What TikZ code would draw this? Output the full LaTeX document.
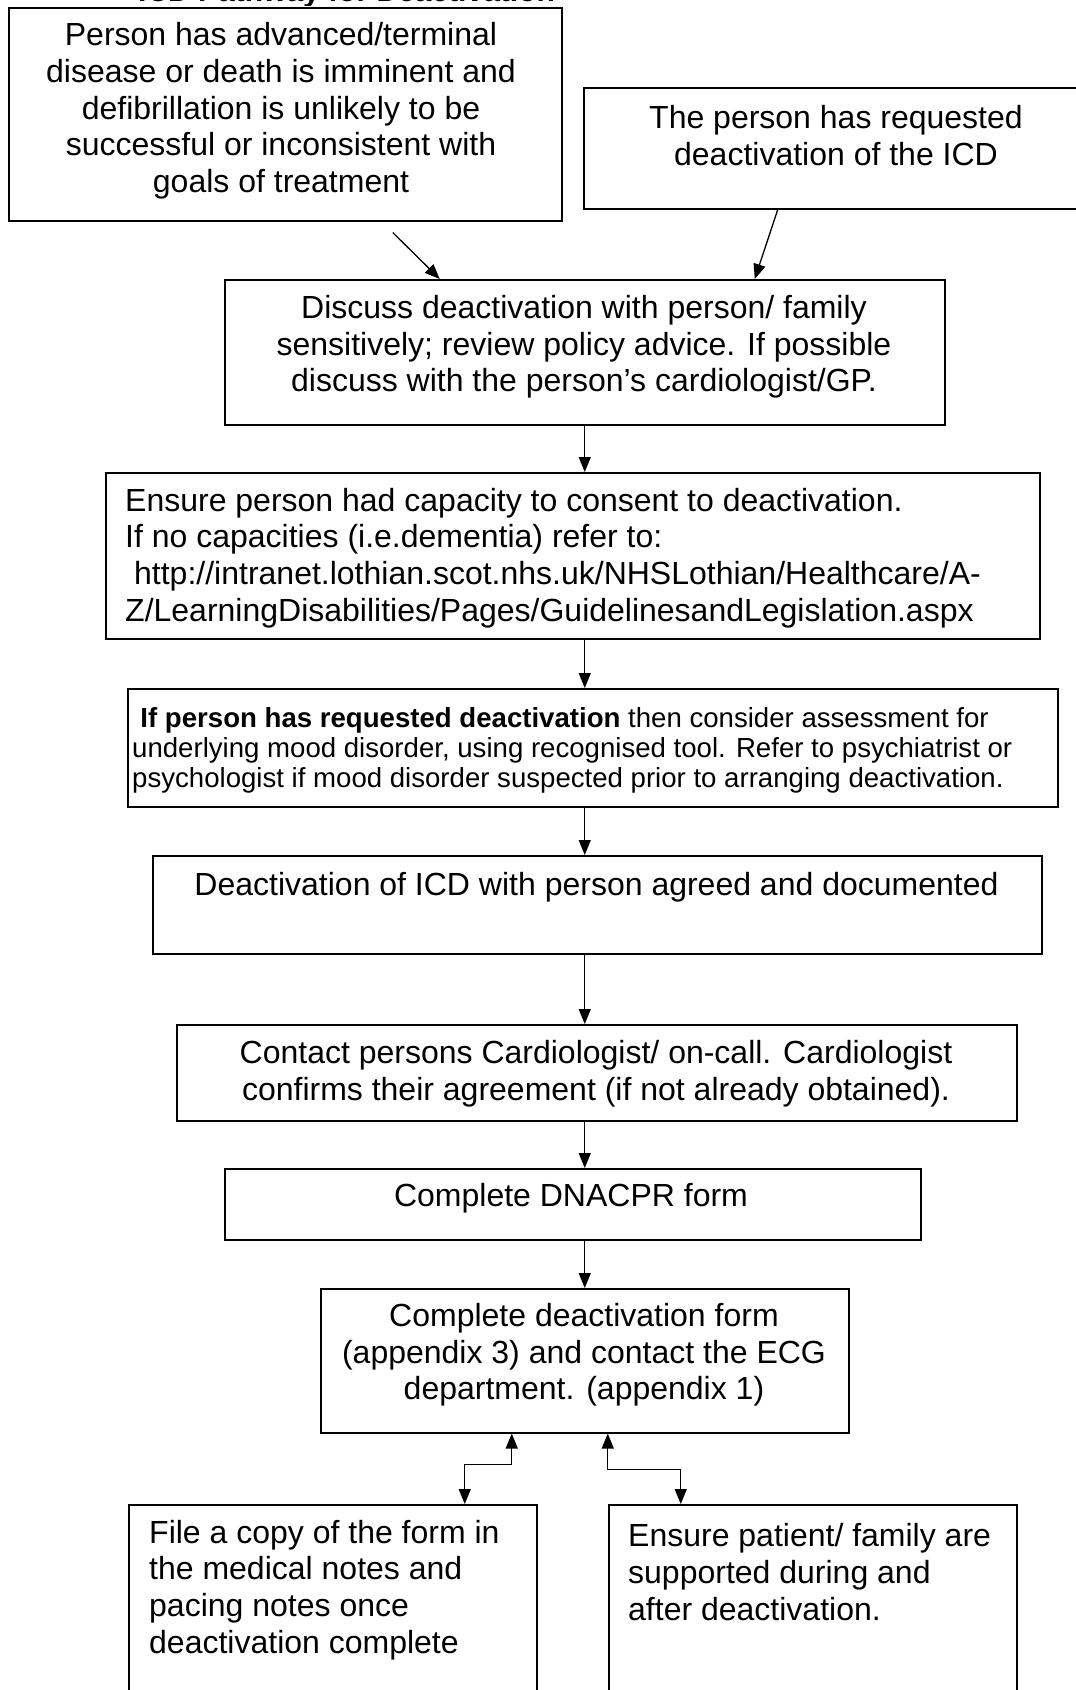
\documentclass[tikz,border=0pt]{standalone}
\usepackage{fontspec}
\setmainfont{Liberation Sans}
\usetikzlibrary{arrows.meta}
\tikzset{
  box/.style={draw=black, line width=1.5pt, rectangle, inner sep=0pt, anchor=north west},
  txt/.style={inner sep=0pt, font=\fontsize{32}{36.7}\selectfont},
  smalltxt/.style={inner sep=0pt, font=\fontsize{27.6}{30}\selectfont},
  arr/.style={line width=1.3pt, -{Triangle[length=15pt,width=12pt]}},
  darr/.style={line width=1.3pt, {Triangle[length=15pt,width=12pt]}-{Triangle[length=15pt,width=12pt]}},
}
\begin{document}
\begin{tikzpicture}[x=1pt,y=-1pt]
\useasboundingbox (0,0) rectangle (1076,1690);
\clip (0,0) rectangle (1076,1690);
\fill[white] (0,0) rectangle (1076,1690);

% cut-off title
\begin{scope}
\clip (0,-40) rectangle (1076,5);
\node[anchor=base west, inner sep=0pt, font=\bfseries\fontsize{30}{34}\selectfont] (title) at (138,1.5) {ICD Pathway for Deactivation};
\end{scope}

% boxes
\node[box, minimum width=553pt, minimum height=213pt] (b1) at (8,7) {};
\node[box, minimum width=507pt, minimum height=121pt] (b2) at (583,87) {};
\node[box, minimum width=720pt, minimum height=145pt] (b3) at (224,279) {};
\node[box, minimum width=934pt, minimum height=166pt] (b4) at (105,472) {};
\node[box, minimum width=930pt, minimum height=118pt] (b5) at (127,688) {};
\node[box, minimum width=889pt, minimum height=98pt] (b6) at (152,855) {};
\node[box, minimum width=840pt, minimum height=96pt] (b7) at (176,1024) {};
\node[box, minimum width=696pt, minimum height=71pt] (b8) at (224,1168) {};
\node[box, minimum width=528pt, minimum height=144pt] (b9) at (320,1288) {};
\node[box, minimum width=408pt, minimum height=240pt] (b10) at (128,1504) {};
\node[box, minimum width=408pt, minimum height=240pt] (b11) at (608,1504) {};

% texts
\node[txt, align=center] (t1) at (281,111) {Person has advanced/terminal\\disease or death is imminent and\\defibrillation is unlikely to be\\successful or inconsistent with\\goals of treatment};
\node[txt, align=center] (t2) at (836,135.5) {The person has requested\\deactivation of the ICD};
\node[txt, align=center] (t3) at (584,347) {Discuss deactivation with person/ family\\sensitively; review policy advice. If possible\\discuss with the person’s cardiologist/GP.};
\node[txt, align=left, anchor=west] (t4) at (125,558) {Ensure person had capacity to consent to deactivation.\\If no capacities (i.e.dementia) refer to:\\\hspace*{0.28em}http://intranet.lothian.scot.nhs.uk/NHSLothian/Healthcare/A-\\Z/LearningDisabilities/Pages/GuidelinesandLegislation.aspx};
\node[smalltxt, align=left, anchor=west] (t5) at (132,750) {\hspace*{0.3em}\textbf{If person has requested deactivation} then consider assessment for\\underlying mood disorder, using recognised tool. Refer to psychiatrist or\\psychologist if mood disorder suspected prior to arranging deactivation.};
\node[txt] (t6) at (596.5,887) {Deactivation of ICD with person agreed and documented};
\node[txt, align=center] (t7) at (596,1074) {Contact persons Cardiologist/ on-call. Cardiologist\\confirms their agreement (if not already obtained).};
\node[txt] (t8) at (571,1198) {Complete DNACPR form};
\node[txt, align=center] (t9) at (584,1355) {Complete deactivation form\\(appendix 3) and contact the ECG\\department. (appendix 1)};
\node[txt, align=left, anchor=west] (t10) at (149,1590) {File a copy of the form in\\the medical notes and\\pacing notes once\\deactivation complete};
\node[txt, align=left, anchor=west] (t11) at (628,1572) {Ensure patient/ family are\\supported during and\\after deactivation.};

% connectors
\draw[arr] ([xshift=107.5pt,yshift=-11pt]b1.south) -- ([xshift=-145pt]b3.north);
\draw[arr] ([xshift=-59.5pt]b2.south) -- ([xshift=170pt]b3.north);
\draw[arr] (b3.south) -- (b4.north -| b3.south);
\draw[arr] (b4.south -| b3.south) -- (b5.north -| b3.south);
\draw[arr] (b5.south -| b3.south) -- (b6.north -| b3.south);
\draw[arr] (b6.south -| b3.south) -- (b7.north -| b3.south);
\draw[arr] (b7.south -| b3.south) -- (b8.north -| b3.south);
\draw[arr] (b8.south -| b3.south) -- (b9.north -| b3.south);
\draw[darr] ([xshift=-73pt]b9.south) -- ++(0,31) -| ([xshift=132pt]b10.north);
\draw[darr] ([xshift=23pt]b9.south) -- ++(0,36) -| ([xshift=-132pt]b11.north);
\end{tikzpicture}
\end{document}
